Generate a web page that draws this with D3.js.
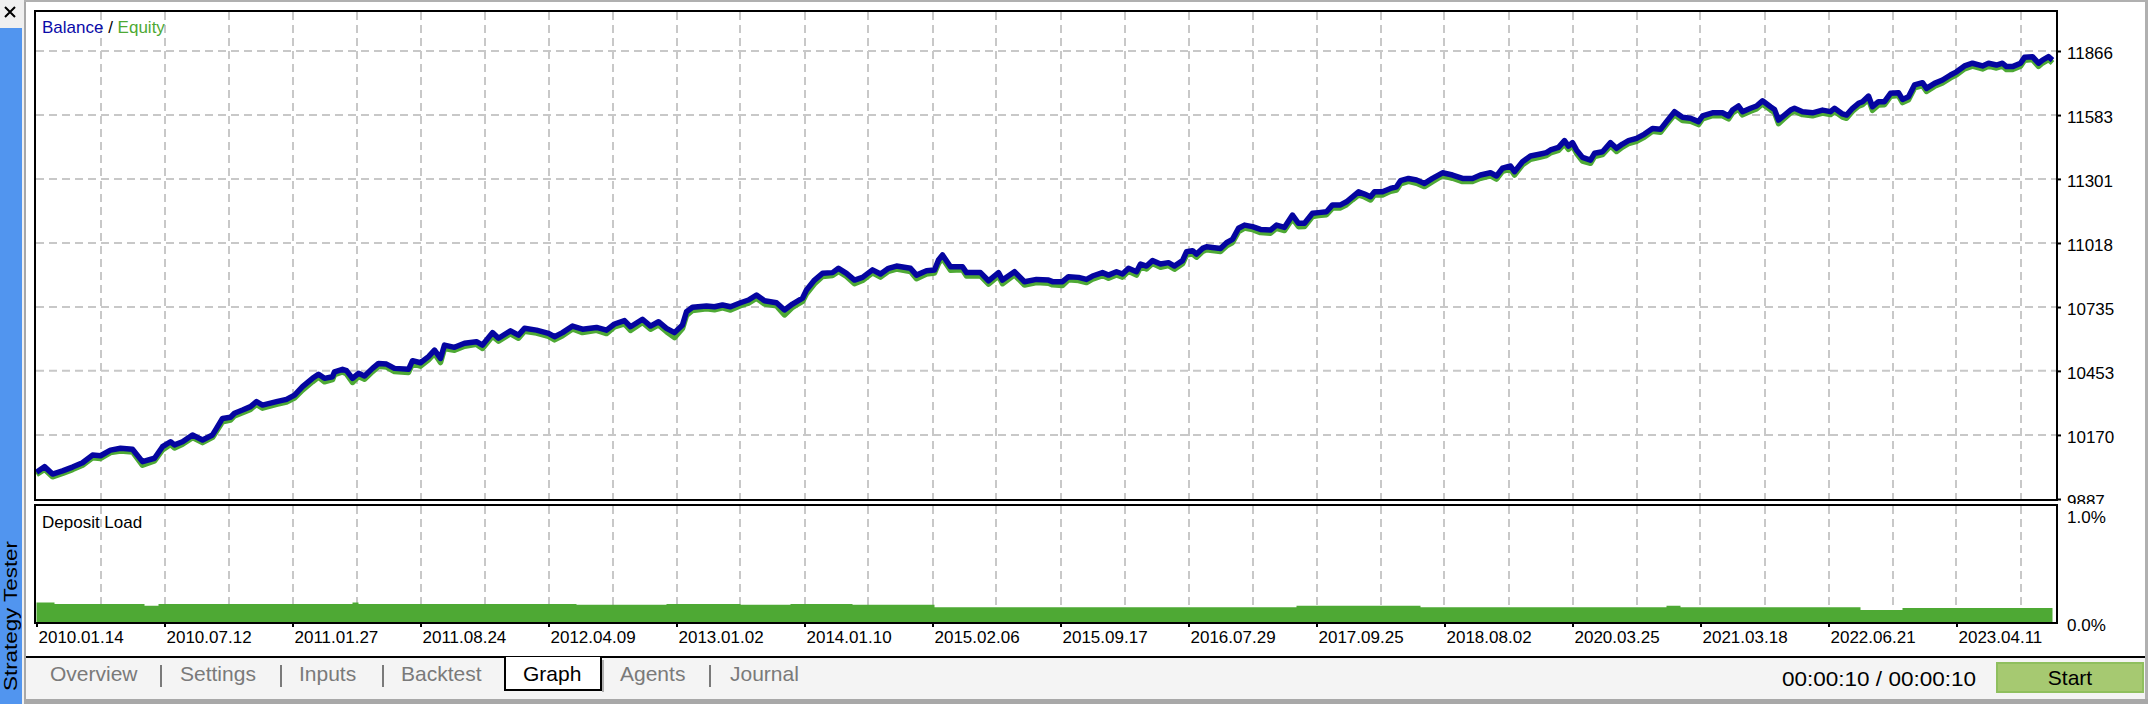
<!DOCTYPE html>
<html>
<head>
<meta charset="utf-8">
<script src="https://cdn.jsdelivr.net/npm/d3@7"></script>
<style>
html,body{margin:0;padding:0;background:#fff;}
svg{display:block;}
</style>
</head>
<body>
<svg id="chart" width="2148" height="704"></svg>
<script>
// ---------------- data ----------------
const deals = [0,4,8,13,18,23,28,32,37,42,48,53,59,63,67,69,73,78,83,88,90,93,97,99,103,107,110,113,120,125,129,133,138,141,144,148,149,153,155,158,161,164,168,171,175,179,186,188,192,196,199,202,204,209,214,220,223,228,231,237,241,244,250,256,
259,263,268,273,280,285,289,294,297,303,307,311,315,319,323,325,328,335,339,343,347,352,356,360,364,370,374,378,383,385,389,393,398,401,405,409,413,418,422,426,430,437,440,445,449,451,453,457,463,465,472,476,481,483,489,494,500,506,
508,513,516,521,525,528,533,536,540,543,546,550,552,555,558,562,566,569,573,575,578,580,583,585,592,595,598,601,604,608,612,617,620,624,628,631,634,638,641,645,648,652,655,658,661,664,667,669,673,677,680,682,686,690,694,698,703,708,713,718,722,727,730,733,737,739,743,747,752,755,
757,761,764,766,768,770,773,777,779,783,787,790,793,796,800,804,808,812,815,819,823,827,831,833,838,843,846,848,851,853,857,860,863,867,869,871,874,877,879,883,888,893,897,899,903,905,908,911,913,916,918,921,924,927,931,933,936,939,943,945,949,953,957,960,964,968,973,976,980,983,985,988,992,994,998,1001,1003,1006,1008];

const balance = [10005,10030,9997,10011,10028,10047,10081,10078,10103,10111,10107,10052,10067,10118,10140,10126,10140,10170,10148,10170,10199,10243,10248,10266,10280,10295,10317,10302,10317,10327,10346,10383,10420,10438,10420,10427,10449,10460,10454,10420,10442,10430,10464,10486,10483,10464,10460,10498,10489,10516,10545,10508,10567,10557,10575,10582,10567,10622,10597,10630,10611,10641,10633,10619,
10604,10622,10651,10637,10645,10633,10660,10675,10648,10681,10651,10670,10641,10622,10656,10714,10734,10740,10736,10744,10736,10754,10766,10788,10763,10754,10722,10748,10774,10810,10854,10884,10887,10906,10884,10854,10866,10899,10881,10906,10916,10906,10876,10895,10899,10943,10965,10913,10913,10887,10887,10851,10887,10854,10891,10847,10857,10854,
10847,10847,10869,10866,10857,10872,10887,10876,10891,10881,10906,10891,10925,10916,10940,10925,10931,10916,10940,10979,10984,10969,10994,11001,10994,11019,11034,11083,11097,11090,11078,11075,11097,11087,11141,11105,11105,11149,11152,11156,11186,11186,11200,11222,11244,11234,11222,11244,11244,11259,11266,11293,11303,11296,11281,11303,11328,11318,11303,11303,11318,11328,11314,11348,11358,11333,11377,11402,11411,11417,
11429,11440,11470,11446,11461,11429,11396,11384,11414,11421,11461,11436,11455,11470,11480,11499,11524,11520,11554,11598,11573,11569,11554,11579,11593,11593,11579,11605,11623,11598,11613,11623,11646,11620,11608,11561,11583,11605,11613,11598,11593,11605,11598,11613,11588,11583,11613,11635,11642,11667,11620,11642,11642,11679,11682,11652,11664,11716,11726,11701,11723,11738,11760,11774,11800,11812,11800,11812,11804,11812,11797,11797,11812,11838,11841,11812,11826,11841,11826];

const equity = [9995,10018,9985,10000,10017,10036,10069,10066,10092,10099,10095,10036,10055,10104,10128,10112,10129,10158,10136,10159,10186,10228,10236,10254,10268,10283,10305,10288,10305,10315,10333,10368,10405,10426,10405,10414,10436,10448,10440,10402,10428,10416,10450,10473,10470,10450,10446,10484,10474,10502,10530,10490,10552,10544,10562,10570,10552,10606,10584,10617,10597,10628,10620,10605,
10590,10608,10638,10622,10632,10618,10647,10661,10632,10667,10637,10656,10626,10600,10640,10698,10720,10727,10723,10731,10722,10741,10752,10774,10748,10740,10700,10734,10760,10794,10838,10870,10874,10892,10870,10838,10852,10886,10867,10893,10903,10892,10860,10881,10885,10928,10950,10898,10900,10872,10873,10836,10873,10838,10877,10832,10843,10840,
10833,10830,10855,10852,10843,10858,10874,10862,10877,10867,10893,10876,10912,10903,10927,10911,10918,10902,10926,10964,10970,10955,10980,10988,10980,11005,11020,11068,11084,11077,11064,11061,11083,11073,11126,11090,11091,11135,11139,11143,11172,11173,11187,11209,11230,11221,11208,11231,11230,11246,11252,11279,11290,11282,11267,11289,11315,11304,11289,11290,11304,11315,11300,11334,11345,11318,11363,11388,11398,11404,
11416,11427,11456,11432,11448,11414,11380,11370,11400,11408,11447,11422,11442,11457,11467,11486,11511,11507,11541,11584,11559,11556,11541,11566,11580,11580,11566,11592,11610,11584,11600,11610,11632,11606,11594,11545,11569,11592,11600,11585,11580,11592,11585,11600,11574,11569,11600,11622,11629,11653,11604,11628,11629,11666,11669,11638,11651,11703,11713,11688,11710,11725,11747,11761,11787,11799,11787,11799,11791,11799,11784,11784,11799,11825,11828,11798,11813,11828,11813];

const loadDeals = [0, 9, 54, 61, 158, 161, 270, 315, 352, 377, 408, 449, 630, 692, 815, 822, 912, 933, 1008];
const loadPct   = [0.19, 0.175, 0.16, 0.175, 0.19, 0.175, 0.17, 0.175, 0.17, 0.175, 0.17, 0.145, 0.16, 0.145, 0.16, 0.145, 0.12, 0.14, 0.14];

const yTicks = [9887, 10170, 10453, 10735, 11018, 11301, 11583, 11866];
const loadTicks = [0, 1.0];
const dateDeals = [0, 64, 128, 192, 256, 320, 384, 448, 512, 576, 640, 704, 768, 832, 896, 960];
const dateLabels = ["2010.01.14","2010.07.12","2011.01.27","2011.08.24","2012.04.09","2013.01.02","2014.01.10","2015.02.06","2015.09.17","2016.07.29","2017.09.25","2018.08.02","2020.03.25","2021.03.18","2022.06.21","2023.04.11"];
const tabs = ["Overview","Settings","Inputs","Backtest","Graph","Agents","Journal"];

// ---------------- drawing ----------------
const BLUE = "#0505a0", GREEN = "#4ea934", GRID = "#c8c8c8";
const FONT = "'Liberation Sans', Arial, sans-serif";
const svg = d3.select("#chart").attr("font-family", FONT);

// window chrome
svg.append("rect").attr("x",0).attr("y",0).attr("width",2148).attr("height",704).attr("fill","#ffffff");
svg.append("rect").attr("x",0).attr("y",0).attr("width",24).attr("height",704).attr("fill","#f0f0f0");
svg.append("rect").attr("x",0).attr("y",28).attr("width",22).attr("height",676).attr("fill","#5195ef");
svg.append("rect").attr("x",24).attr("y",0).attr("width",2).attr("height",704).attr("fill","#a8a8a8");
svg.append("rect").attr("x",24).attr("y",0).attr("width",2124).attr("height",2).attr("fill","#b0b0b0");
svg.append("rect").attr("x",2145).attr("y",0).attr("width",3).attr("height",704).attr("fill","#b0b0b0");
// close x
svg.append("path").attr("d","M5,7 L15,17 M15,7 L5,17").attr("stroke","#000").attr("stroke-width",2);
svg.append("text").attr("transform","translate(17,616) rotate(-90)")
  .attr("text-anchor","middle").attr("font-size",18)
  .attr("textLength",150).attr("lengthAdjust","spacingAndGlyphs")
  .attr("fill","#000").text("Strategy Tester");

// scales
const x = d3.scaleLinear().domain([0, 1010]).range([36.5, 2056.5]);
const y = d3.scaleLinear().domain([yTicks[0], yTicks[yTicks.length-1]]).range([499, 51]);
const yL = d3.scaleLinear().domain([0, 1]).range([623, 515]);

const defs = svg.append("defs");
defs.append("clipPath").attr("id","mainClip").append("rect").attr("x",36).attr("y",12).attr("width",2020).attr("height",487);
defs.append("clipPath").attr("id","loadClip").append("rect").attr("x",36).attr("y",506).attr("width",2020).attr("height",116);
defs.append("clipPath").attr("id","axisClip").append("rect").attr("x",2040).attr("y",0).attr("width",108).attr("height",504);

// grids
const vGrid = d3.range(32, 1010, 32);
const grid = svg.append("g").attr("stroke",GRID).attr("stroke-width",2).attr("stroke-dasharray","8,5").attr("fill","none");
grid.selectAll(".vm").data(vGrid).join("line").attr("class","vm")
  .attr("x1",d=>Math.round(x(d))).attr("x2",d=>Math.round(x(d))).attr("y1",12).attr("y2",499);
grid.selectAll(".vl").data(vGrid).join("line").attr("class","vl")
  .attr("x1",d=>Math.round(x(d))).attr("x2",d=>Math.round(x(d))).attr("y1",506).attr("y2",622);
grid.selectAll(".h").data(yTicks.slice(1)).join("line").attr("class","h")
  .attr("x1",36).attr("x2",2056).attr("y1",d=>y(d)).attr("y2",d=>y(d));

// series
const pts = deals.map((d,i)=>({deal:d, bal:balance[i], eq:equity[i]}));
const main = svg.append("g").attr("clip-path","url(#mainClip)");
main.append("path").datum(pts)
  .attr("d", d3.line().x(d=>x(d.deal)).y(d=>y(d.eq)))
  .attr("fill","none").attr("stroke",GREEN).attr("stroke-width",5.5).attr("stroke-linejoin","round");
main.append("path").datum(pts)
  .attr("d", d3.line().x(d=>x(d.deal)).y(d=>y(d.bal)))
  .attr("fill","none").attr("stroke",BLUE).attr("stroke-width",5.5).attr("stroke-linejoin","round");

// deposit load
const loadPts = loadDeals.map((d,i)=>({deal:d, v:loadPct[i]}));
svg.append("g").attr("clip-path","url(#loadClip)").append("path").datum(loadPts)
  .attr("d", d3.area().curve(d3.curveStepAfter).x(d=>x(d.deal)).y0(yL(0)).y1(d=>yL(d.v)))
  .attr("fill",GREEN);

// frames
svg.append("rect").attr("x",35).attr("y",11).attr("width",2022).attr("height",489)
  .attr("fill","none").attr("stroke","#000").attr("stroke-width",2);
svg.append("rect").attr("x",35).attr("y",505).attr("width",2022).attr("height",118)
  .attr("fill","none").attr("stroke","#000").attr("stroke-width",2);

// titles
const t = svg.append("text").attr("x",42).attr("y",33).attr("font-size",17);
t.append("tspan").attr("fill","#0a0aa8").text("Balance");
t.append("tspan").attr("fill","#000").text(" / ");
t.append("tspan").attr("fill",GREEN).text("Equity");
svg.append("text").attr("x",42).attr("y",528).attr("font-size",17).attr("fill","#000").text("Deposit Load");

// y axis (balance) — clipped wrapper so the bottom label is cut like the reference
const yaWrap = svg.append("g").attr("clip-path","url(#axisClip)");
const ya = yaWrap.append("g").attr("transform","translate(2057,0)")
  .call(d3.axisRight(y).tickValues(yTicks).tickSize(4).tickPadding(6).tickFormat(d3.format("d")));
ya.select(".domain").remove();
ya.selectAll(".tick line").attr("stroke","#000").attr("stroke-width",2);
ya.selectAll(".tick text").attr("font-size",17).attr("font-family",FONT).attr("fill","#000").attr("dy","0.45em");

// y axis (load)
const la = svg.append("g").attr("transform","translate(2057,0)")
  .call(d3.axisRight(yL).tickValues(loadTicks).tickSize(0).tickPadding(10).tickFormat(d=>d.toFixed(1)+"%"));
la.select(".domain").remove();
la.selectAll(".tick text").attr("font-size",17).attr("font-family",FONT).attr("fill","#000").attr("dy","0.45em");

// x axis
const xa = svg.append("g").attr("transform","translate(0,623)")
  .call(d3.axisBottom(x).tickValues(dateDeals).tickSize(4).tickFormat((d,i)=>dateLabels[i]));
xa.select(".domain").remove();
xa.selectAll(".tick line").attr("stroke","#000").attr("stroke-width",2);
xa.selectAll(".tick text").attr("font-size",17).attr("font-family",FONT).attr("fill","#000")
  .attr("text-anchor","start").attr("x",1.5).attr("y",20).attr("dy",0);

// tab bar
svg.append("rect").attr("x",26).attr("y",658).attr("width",2119).attr("height",41).attr("fill","#f4f4f4");
svg.append("rect").attr("x",26).attr("y",699).attr("width",2122).attr("height",5).attr("fill","#a8a8a8");
svg.append("rect").attr("x",26).attr("y",656).attr("width",2119).attr("height",2).attr("fill","#000");
// graph tab
svg.append("rect").attr("x",504).attr("y",657).attr("width",98).attr("height",33).attr("fill","#ffffff");
svg.append("path").attr("d","M505,657 V690 H601 V657").attr("fill","none").attr("stroke","#000").attr("stroke-width",2);
svg.append("line").attr("x1",603).attr("x2",603).attr("y1",660).attr("y2",692).attr("stroke","#9a9a9a").attr("stroke-width",1.5);

const tabX = [50, 180, 299, 401, 523, 620, 730];
svg.selectAll(".tab").data(tabs).join("text").attr("class","tab")
  .attr("x",(d,i)=>tabX[i]).attr("y",681).attr("font-size",21)
  .attr("fill",d=>d==="Graph"?"#000":"#7a7a7a").text(d=>d);
const sepX = [161, 281, 383, 710];
svg.selectAll(".sep").data(sepX).join("line").attr("class","sep")
  .attr("x1",d=>d).attr("x2",d=>d).attr("y1",665).attr("y2",687)
  .attr("stroke","#7a7a7a").attr("stroke-width",2);

svg.append("text").attr("x",1782).attr("y",686).attr("font-size",21).attr("fill","#000")
  .attr("textLength",194).attr("lengthAdjust","spacingAndGlyphs").text("00:00:10 / 00:00:10");
svg.append("rect").attr("x",1997).attr("y",663).attr("width",146).attr("height",29)
  .attr("fill","#a6c971").attr("stroke","#8fbf5e").attr("stroke-width",2);
svg.append("text").attr("x",2070).attr("y",685).attr("font-size",21).attr("text-anchor","middle").attr("fill","#000").text("Start");
</script>
</body>
</html>
